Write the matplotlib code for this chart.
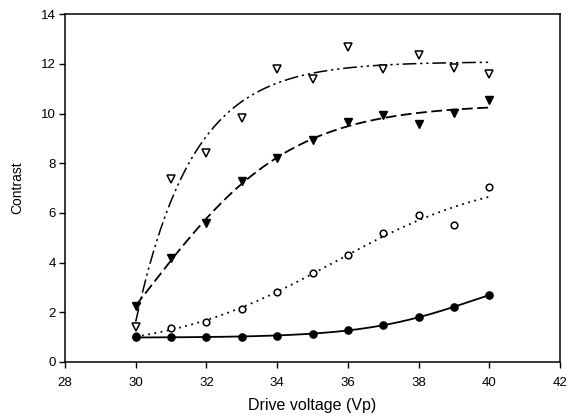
import numpy as np
import matplotlib
matplotlib.use("Agg")
import matplotlib.pyplot as plt

plt.rcParams['font.family'] = ['Liberation Sans', 'DejaVu Sans']

# 数据
voltage = [30, 31, 32, 33, 34, 35, 36, 37, 38, 39, 40]
open_tri = [1.4, 7.35, 8.4, 9.8, 11.78, 11.4, 12.68, 11.8, 12.37, 11.84, 11.6]
fill_tri = [2.25, 4.18, 5.6, 7.3, 8.2, 8.93, 9.67, 9.95, 9.57, 10.03, 10.56]
open_cir = [1.05, 1.35, 1.6, 2.15, 2.8, 3.57, 4.32, 5.2, 5.92, 5.5, 7.05]
fill_cir = [1.0, 1.0, 1.0, 1.02, 1.05, 1.12, 1.27, 1.5, 1.8, 2.2, 2.7]

xticks = [28, 30, 32, 34, 36, 38, 40, 42]
yticks = [0, 2, 4, 6, 8, 10, 12, 14]


#-----------------------------------------------------------------------
# 4参数 sigmoid 拟合 (简单 Levenberg-Marquardt)
def sigmoid(p, x):
    y0, a, x0, b = p
    return y0 + a / (1.0 + np.exp(-(x - x0) / b))

def fit_sigmoid(x, y, p0):
    x = np.asarray(x, float)
    y = np.asarray(y, float)
    p = np.array(p0, float)
    lam = 1e-3
    for i in range(2000):
        r = y - sigmoid(p, x)
        J = np.zeros((len(x), len(p)))
        for k in range(len(p)):
            dp = np.zeros(len(p))
            dp[k] = 1e-6 * max(1.0, abs(p[k]))
            J[:, k] = (sigmoid(p + dp, x) - sigmoid(p, x)) / dp[k]
        A = J.T @ J
        g = J.T @ r
        try:
            step = np.linalg.solve(A + lam * np.diag(np.diag(A) + 1e-12), g)
        except np.linalg.LinAlgError:
            break
        pn = p + step
        if pn[3] > 0.05 and np.sum((y - sigmoid(pn, x)) ** 2) < np.sum(r ** 2):
            p = pn
            lam /= 3
        else:
            lam *= 3
        if lam > 1e12:
            break
    return p


fig, ax = plt.subplots(figsize=(5.75, 4.16), dpi=100)
fig.subplots_adjust(left=0.113, right=0.974, top=0.966, bottom=0.13)

xs = np.linspace(30, 40, 300)
p1 = fit_sigmoid(voltage, open_tri, [0, 12, 30.5, 0.6])
p2 = fit_sigmoid(voltage, fill_tri, [0, 10.5, 31, 1.5])
p3 = fit_sigmoid(voltage, open_cir, [1, 7, 37, 1.5])
p4 = fit_sigmoid(voltage, fill_cir, [1, 3, 40, 1.5])

ax.plot(xs, sigmoid(p1, xs), color='black', lw=1.1, ls=(0, (9, 2.5, 1.5, 2.5, 1.5, 2.5)))
ax.plot(xs, sigmoid(p2, xs), color='black', lw=1.3, ls=(0, (6, 2.5)))
ax.plot(xs, sigmoid(p3, xs), color='black', lw=1.3, ls=(0, (1, 2.5)))
ax.plot(xs, sigmoid(p4, xs), color='black', lw=1.3, ls='-')

ax.plot(voltage, open_tri, 'v', ms=5.5, mfc='white', mec='black', mew=1.1, ls='none')
ax.plot(voltage, fill_tri, 'v', ms=6.2, mfc='black', mec='black', ls='none')
ax.plot(voltage, open_cir, 'o', ms=4.8, mfc='white', mec='black', mew=1.1, ls='none')
ax.plot(voltage, fill_cir, 'o', ms=5.2, mfc='black', mec='black', ls='none')

ax.set_xlim(28, 42)
ax.set_ylim(0, 14)
ax.set_xticks(xticks)
ax.set_yticks(yticks)
ax.tick_params(direction='out', length=4, width=1, labelsize=9.5, top=False, right=False)
ax.tick_params(axis='x', pad=6.5)
ax.tick_params(axis='y', pad=2.5)
ax.set_xlabel('Drive voltage (Vp)', fontsize=11.5)
ax.set_ylabel('Contrast', fontsize=10)
ax.xaxis.set_label_coords(0.5, -0.105)
ax.yaxis.set_label_coords(-0.082, 0.5)
for s in ax.spines.values():
    s.set_linewidth(1.1)

fig.savefig('out.png', dpi=100)
